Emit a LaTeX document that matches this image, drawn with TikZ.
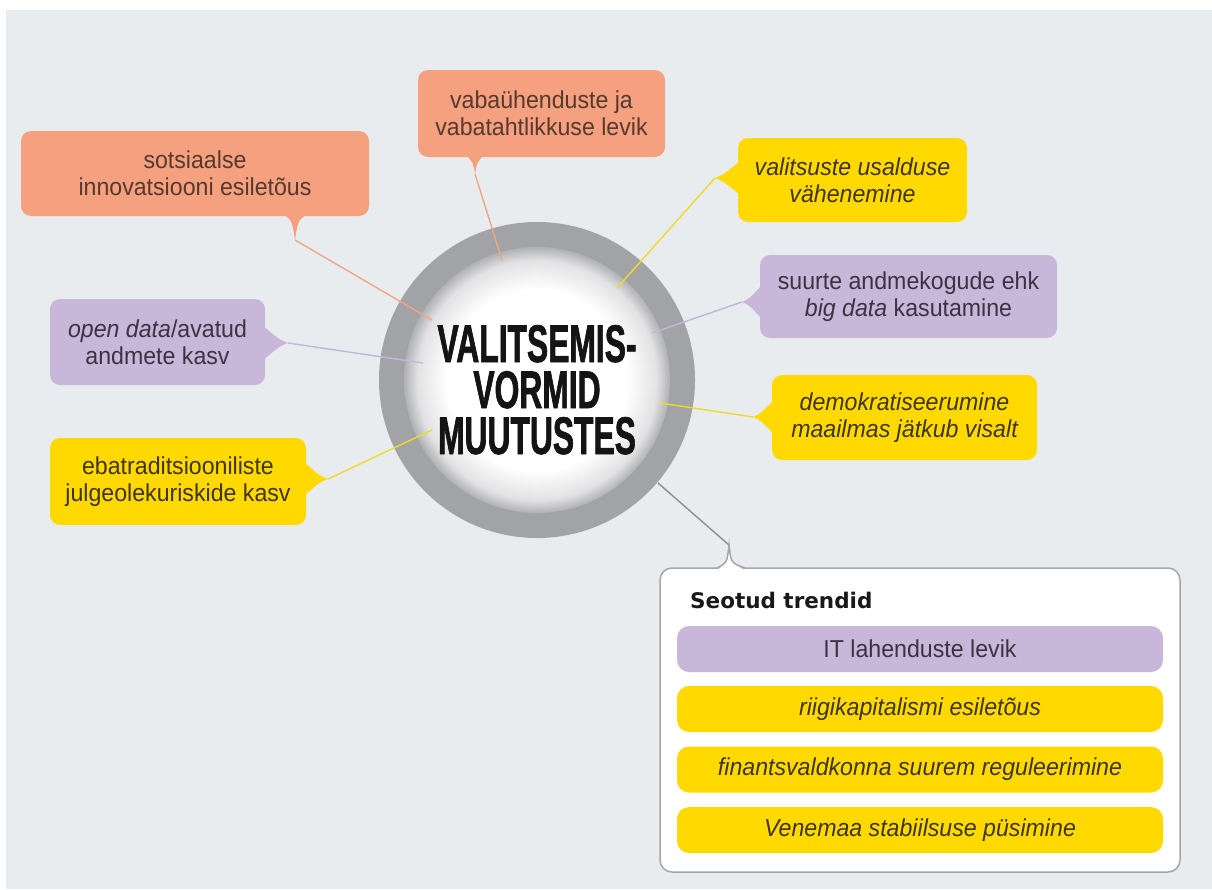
\documentclass[tikz,border=0pt]{standalone}
\usepackage{fontspec}
\setmainfont{Liberation Sans}[FakeStretch=0.945]
\newfontfamily\titlefont[FakeStretch=0.6,FakeBold=1.2]{Liberation Sans}
\newfontfamily\headfont{DejaVu Sans}
\definecolor{bg}{HTML}{E9ECEF}
\definecolor{salmon}{HTML}{F5A07E}
\definecolor{gold}{HTML}{FFD900}
\definecolor{lilac}{HTML}{C9B7DA}
\definecolor{ring}{HTML}{A2A3A6}
\definecolor{ringin}{HTML}{B0B1B3}
\definecolor{ringmid}{HTML}{E2E2E4}
\definecolor{txt}{HTML}{3A3434}
\definecolor{txtsal}{HTML}{573A2F}
\definecolor{txtgold}{HTML}{3F3514}
\definecolor{txtlil}{HTML}{3B3342}
\definecolor{frame}{HTML}{A6A6A8}
\definecolor{ysalmon}{HTML}{F2A585}
\definecolor{ygold}{HTML}{EEDB2A}
\definecolor{ylilac}{HTML}{C4B6D6}
\definecolor{ygray}{HTML}{8E8E90}
\pgfdeclareradialshading{discshade}{\pgfpoint{0bp}{0bp}}{color(0bp)=(white); color(17bp)=(white); color(22.5bp)=(ringmid); color(25bp)=(ringin); color(50bp)=(ringin)}
\begin{document}
\begin{tikzpicture}[x=1pt,y=-1pt,
  bubble/.style={rounded corners=10pt, align=center, inner sep=0pt,
    font=\fontsize{24.5}{27}\selectfont},
  pill/.style={rounded corners=12pt, align=center, inner sep=0pt,
    minimum width=486pt, minimum height=46pt, font=\fontsize{24.5}{27}\selectfont},
  sal/.style={fill=salmon, text=txtsal},
  yel/.style={fill=gold, text=txtgold},
  lil/.style={fill=lilac, text=txtlil},
  link/.style={line width=1.4pt},
  titleline/.style={inner sep=0pt, text=black!92, font=\titlefont\bfseries\fontsize{53}{53}\selectfont}
]
\useasboundingbox (0,0) rectangle (1212,889);
\fill[white] (0,0) rectangle (1212,889);
\fill[bg] (6,10) rectangle (1212,889);

% central circle
\coordinate (c) at (537,380);
\fill[ring] (c) circle (158);
\shade[shading=discshade] (c) circle (133);

% tips and ends
\coordinate (t1) at (295,240); \coordinate (e1) at (432,320);
\coordinate (t2) at (475,174); \coordinate (e2) at (502,260);
\coordinate (t3) at (715,178); \coordinate (e3) at (617,288);
\coordinate (t4) at (742,302); \coordinate (e4) at (652,333);
\coordinate (t5) at (753,417); \coordinate (e5) at (660,403);
\coordinate (t6) at (288,343); \coordinate (e6) at (423,363);
\coordinate (t7) at (328,479); \coordinate (e7) at (432,430);
\coordinate (t8) at (729,545); \coordinate (e8) at (658,483);

\draw[link, ysalmon] (t1) -- (e1);
\draw[link, ysalmon] (t2) -- (e2);
\draw[link, ygold] (t3) -- (e3);
\draw[link, ylilac] (t4) -- (e4);
\draw[link, ygold] (t5) -- (e5);
\draw[link, ylilac] (t6) -- (e6);
\draw[link, ygold] (t7) -- (e7);
\draw[link, ygray] (e8) -- (t8);

% tails
\fill[salmon, shift={(t1)}] (-14,-27) .. controls (-3,-20) .. (0,0) .. controls (3,-20) .. (14,-27) -- cycle;
\fill[salmon, shift={(t2)}] (-10,-20) .. controls (-2,-12) .. (0,0) .. controls (2,-12) .. (10,-20) -- cycle;
\fill[gold, shift={(t3)}] (25,-17) .. controls (8,-3) .. (0,0) .. controls (8,3) .. (25,17) -- cycle;
\fill[lilac, shift={(t4)}] (20,-17) .. controls (7,-3) .. (0,0) .. controls (7,3) .. (20,17) -- cycle;
\fill[gold, shift={(t5)}] (21,-17) .. controls (7,-3) .. (0,0) .. controls (7,3) .. (21,17) -- cycle;
\fill[lilac, shift={(t6)}] (-25,-17) .. controls (-8,-3) .. (0,0) .. controls (-8,3) .. (-25,17) -- cycle;
\fill[gold, shift={(t7)}] (-24,-17) .. controls (-8,-3) .. (0,0) .. controls (-8,3) .. (-24,17) -- cycle;

% bubbles
\node[bubble, sal, minimum width=348pt, minimum height=85pt] (b1) at (195,173.5)
  {sotsiaalse\\innovatsiooni esiletõus};
\node[bubble, sal, minimum width=247pt, minimum height=87pt] (b2) at (541.5,113.5)
  {vabaühenduste ja\\vabatahtlikkuse levik};
\node[bubble, yel, minimum width=229pt, minimum height=84pt] (b3) at (852.5,180)
  {\itshape valitsuste usalduse\\\itshape vähenemine};
\node[bubble, lil, minimum width=297pt, minimum height=83pt] (b4) at (908.5,296.5)
  {suurte andmekogude ehk\\\textit{big data} kasutamine};
\node[bubble, yel, minimum width=265pt, minimum height=85pt] (b5) at (904.5,417.5)
  {\itshape demokratiseerumine\\\itshape maailmas jätkub visalt};
\node[bubble, lil, minimum width=215pt, minimum height=86pt] (b6) at (157.5,342)
  {\textit{open data}/avatud\\andmete kasv};
\node[bubble, yel, minimum width=256pt, minimum height=87pt] (b7) at (178,481.5)
  {ebatraditsiooniliste\\julgeolekuriskide kasv};

% related trends box
\node[draw=frame, line width=1.5pt, fill=white, rounded corners=12pt,
  minimum width=520pt, minimum height=304pt, inner sep=0pt] (rb) at (920,720) {};
\fill[white, shift={(t8)}] (-12,25) .. controls (-2,18) .. (0,0) .. controls (2,18) .. (16,25) -- cycle;
\draw[frame, line width=1.5pt, shift={(t8)}] (-12,23) .. controls (-2,18) .. (0,0) .. controls (2,18) .. (16,23);
\node[anchor=base west, inner sep=0pt, font=\headfont\bfseries\fontsize{21.5}{26}\selectfont, text=black!90] (hd) at (690,608) {Seotud trendid};
\node[pill, lil] (p1) at (920,649) {IT lahenduste levik};
\node[pill, yel] (p2) at (920,709) {\itshape riigikapitalismi esiletõus};
\node[pill, yel] (p3) at (920,769.5) {\itshape finantsvaldkonna suurem reguleerimine};
\node[pill, yel] (p4) at (920,830) {\itshape Venemaa stabiilsuse püsimine};

% title
\node[titleline, anchor=base] (title1) at (537,362) {VALITSEMIS-};
\node[titleline, anchor=base] (title2) at (537,408) {VORMID};
\node[titleline, anchor=base] (title3) at (537,454) {MUUTUSTES};
\end{tikzpicture}
\end{document}
